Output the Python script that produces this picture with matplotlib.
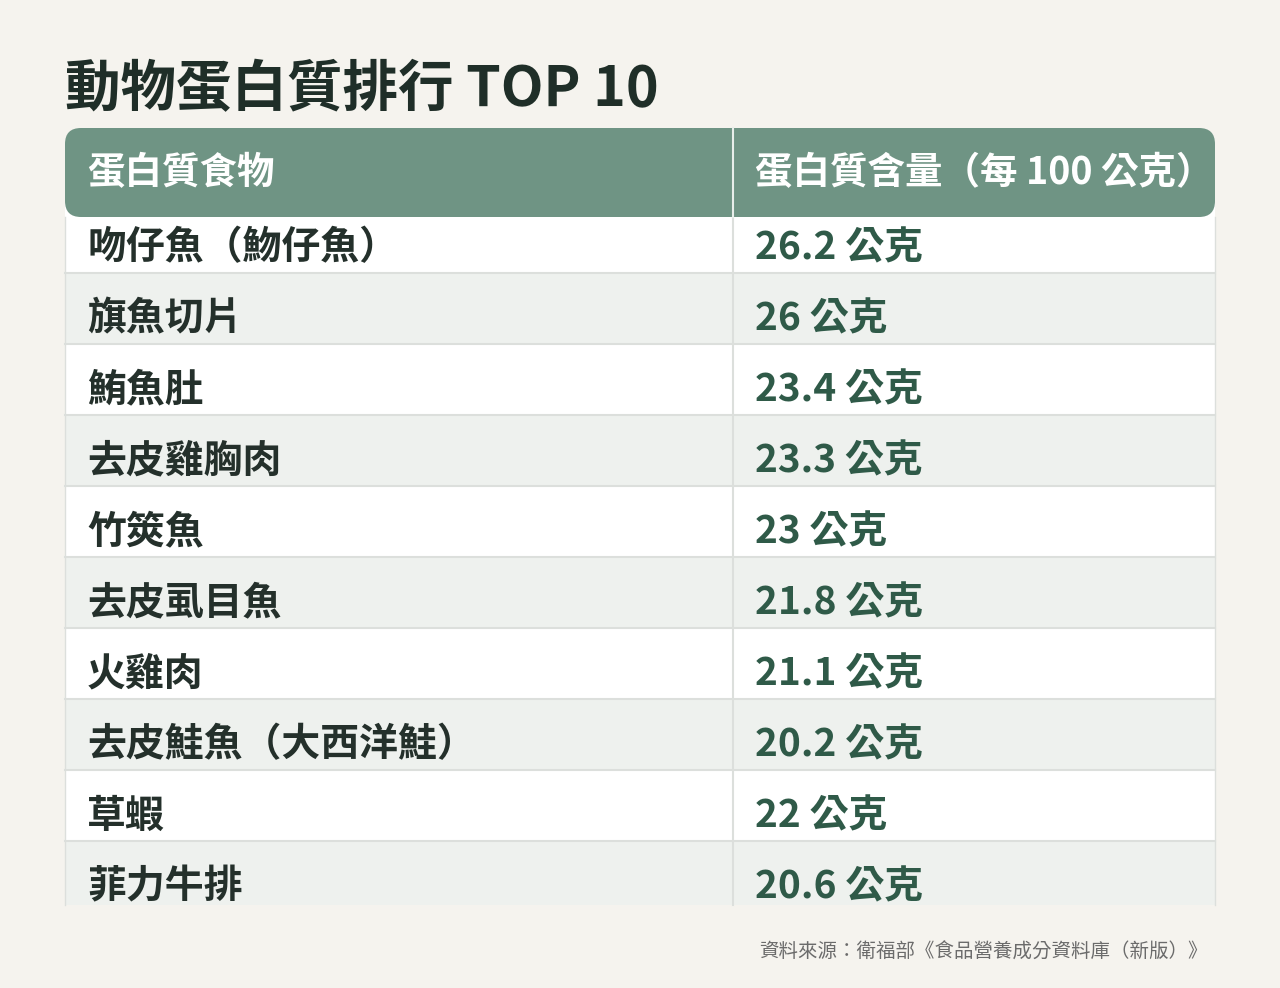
import matplotlib.pyplot as plt
from matplotlib.patches import FancyBboxPatch, Rectangle

plt.rcParams['font.family'] = ['Noto Sans CJK TC', 'DejaVu Sans']

title = '動物蛋白質排行 TOP 10'
headers = ['蛋白質食物', '蛋白質含量（每 100 公克）']
foods = ['吻仔魚（魩仔魚）', '旗魚切片', '鮪魚肚', '去皮雞胸肉', '竹筴魚',
         '去皮虱目魚', '火雞肉', '去皮鮭魚（大西洋鮭）', '草蝦', '菲力牛排']
protein = ['26.2', '26', '23.4', '23.3', '23', '21.8', '21.1', '20.2', '22', '20.6']
unit = '公克'
source = '資料來源：衛福部《食品營養成分資料庫（新版）》'

bg = '#f5f3ee'
head_c = '#6f9484'
alt_c = '#eef1ee'
line_c = '#dcdfdc'

fig = plt.figure(figsize=(12.8, 9.88), dpi=100, facecolor=bg)
ax = fig.add_axes([0, 0, 1, 1])
ax.set_xlim(0, 1280)
ax.set_ylim(988, 0)
ax.axis('off')

ax.text(65, 90, title, fontsize=40, fontweight='bold', color='#1f2e28', va='center')

left, right, mid = 65, 1215, 733
row_h = 71
y0 = 202
for i, (f, v) in enumerate(zip(foods, protein)):
    top = y0 + i * row_h
    h = row_h if i < len(foods) - 1 else 905 - top
    ax.add_patch(Rectangle((left, top), right - left, h,
                           facecolor='white' if i % 2 == 0 else alt_c,
                           edgecolor='none', zorder=1))
    if i < len(foods) - 1:
        ax.plot([left, right], [top + row_h, top + row_h], color=line_c, lw=1.5, zorder=2)
    cy = 248 + i * row_h
    ax.text(87, cy, f, fontsize=28, fontweight='bold', color='#24302b', va='center', zorder=3)
    ax.text(755, cy, f'{v} {unit}', fontsize=28, fontweight='bold', color='#2f5a48',
            va='center', zorder=3)
ax.plot([mid, mid], [217, 905], color=line_c, lw=1.5, zorder=2)
ax.plot([left, left], [217, 905], color=line_c, lw=1, zorder=2)
ax.plot([right, right], [217, 905], color=line_c, lw=1, zorder=2)

ax.add_patch(FancyBboxPatch((left, 128), right - left, 89,
                            boxstyle='round,pad=0,rounding_size=16',
                            facecolor=head_c, edgecolor='none', zorder=4))
ax.plot([mid, mid], [128, 217], color='#e8eeea', lw=1.5, zorder=5)
ax.text(87, 173, headers[0], fontsize=27, fontweight='bold', color='white', va='center', zorder=5)
ax.text(755, 173, headers[1], fontsize=27, fontweight='bold', color='white', va='center', zorder=5)

ax.text(1208, 952, source, fontsize=14, color='#6b6b6b', ha='right', va='center')

fig.savefig('out.png', dpi=100, facecolor=bg)
